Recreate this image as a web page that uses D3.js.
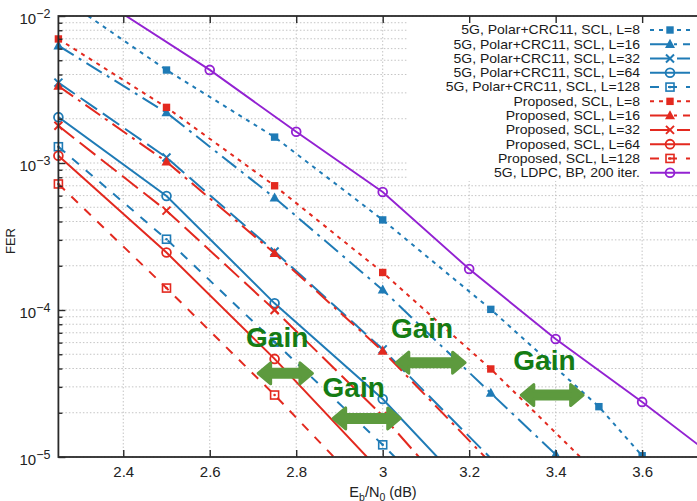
<!DOCTYPE html>
<html><head><meta charset="utf-8">
<script src="https://cdn.jsdelivr.net/npm/d3@7"></script>
<style>
body{margin:0;background:#fff;}
svg{display:block;font-family:"Liberation Sans",Arial,Helvetica,sans-serif;}
</style>
</head><body>
<svg id="chart" width="697" height="501"></svg>
<script>
// ---------------- data ----------------
const xTicks = [2.4, 2.6, 2.8, 3.0, 3.2, 3.4, 3.6];
const yMajorTicks = [1e-2, 1e-3, 1e-4, 1e-5];
const yTickExponents = ["\u22122", "\u22123", "\u22124", "\u22125"];

const seriesLabels = [
  "5G, Polar+CRC11, SCL, L=8",
  "5G, Polar+CRC11, SCL, L=16",
  "5G, Polar+CRC11, SCL, L=32",
  "5G, Polar+CRC11, SCL, L=64",
  "5G, Polar+CRC11, SCL, L=128",
  "Proposed, SCL, L=8",
  "Proposed, SCL, L=16",
  "Proposed, SCL, L=32",
  "Proposed, SCL, L=64",
  "Proposed, SCL, L=128",
  "5G, LDPC, BP, 200 iter."
];

const polarL8X    = [2.25, 2.5, 2.75, 3.0, 3.25, 3.5, 3.6];
const polarL8Fer  = [1.38e-2, 4.29e-3, 1.5e-3, 4.1e-4, 1.01e-4, 2.2e-5, 1.02e-5];
const polarL16X   = [2.25, 2.5, 2.75, 3.0, 3.25, 3.4];
const polarL16Fer = [6.28e-3, 2.2e-3, 5.8e-4, 1.37e-4, 2.72e-5, 1.04e-5];
const polarL32X   = [2.25, 2.5, 2.75, 3.0, 3.25];
const polarL32Fer = [3.52e-3, 1.09e-3, 2.5e-4, 5.4e-5, 9.8e-6];
const polarL64X   = [2.25, 2.5, 2.75, 3.0, 3.25];
const polarL64Fer = [2.05e-3, 5.97e-4, 1.11e-4, 2.48e-5, 4.1e-6];
const polarL128X  = [2.25, 2.5, 2.75, 3.0, 3.25];
const polarL128Fer= [1.29e-3, 3.03e-4, 6.05e-5, 1.21e-5, 2.2e-6];

const propL8X     = [2.25, 2.5, 2.75, 3.0, 3.25, 3.5];
const propL8Fer   = [6.98e-3, 2.39e-3, 7.0e-4, 1.8e-4, 3.97e-5, 7.5e-6];
const propL16X    = [2.25, 2.5, 2.75, 3.0, 3.25];
const propL16Fer  = [3.34e-3, 1.02e-3, 2.43e-4, 5.26e-5, 9.1e-6];
const propL32X    = [2.25, 2.5, 2.75, 3.0, 3.25];
const propL32Fer  = [1.79e-3, 4.74e-4, 1.0e-4, 1.9e-5, 2.8e-6];
const propL64X    = [2.25, 2.5, 2.75, 3.0];
const propL64Fer  = [1.12e-3, 2.46e-4, 4.65e-5, 7.7e-6];
const propL128X   = [2.25, 2.5, 2.75, 3.0];
const propL128Fer = [7.2e-4, 1.41e-4, 2.64e-5, 4.5e-6];

const ldpcX   = [2.4, 2.6, 2.8, 3.0, 3.2, 3.4, 3.6, 3.8];
const ldpcFer = [1.03e-2, 4.3e-3, 1.63e-3, 6.35e-4, 1.9e-4, 6.35e-5, 2.37e-5, 8.4e-6];

const gainArrowX1  = [2.7085, 2.882, 3.028, 3.317];
const gainArrowX2  = [2.841, 3.044, 3.194, 3.467];
const gainArrowFer = [3.71e-5, 1.83e-5, 4.38e-5, 2.64e-5];
const gainTextX    = [2.684, 2.861, 3.019, 3.302];
const gainTextFer  = [5.63e-5, 2.57e-5, 6.46e-5, 3.91e-5];
const gainLabel = "Gain";

// ---------------- styles ----------------
const BLUE = "#1f7bb6", RED = "#e3291f", PURPLE = "#9322d2";
const seriesX   = [polarL8X, polarL16X, polarL32X, polarL64X, polarL128X, propL8X, propL16X, propL32X, propL64X, propL128X, ldpcX];
const seriesFer = [polarL8Fer, polarL16Fer, polarL32Fer, polarL64Fer, polarL128Fer, propL8Fer, propL16Fer, propL32Fer, propL64Fer, propL128Fer, ldpcFer];
const colors  = [BLUE, BLUE, BLUE, BLUE, BLUE, RED, RED, RED, RED, RED, PURPLE];
const dashes  = ["4,5", "18,6,3,6", "20,7", null, "9,9", "4,5", "18,6,3,6", "20,7", null, "9,9", null];
const markers = ["sq", "tri", "x", "circ", "sqdot", "sq", "tri", "x", "circ", "sqdot", "circ"];

// ---------------- layout ----------------
const svg = d3.select("#chart");
const L = 58.4, T = 16, B = 457, R = 707;
const x = d3.scaleLinear().domain([2.25, 3.75]).range([L, R]);
const y = d3.scaleLog().domain([1e-5, 1e-2]).range([B, T]);

const defs = svg.append("defs");
defs.append("clipPath").attr("id", "plotClip").append("rect")
  .attr("x", L).attr("y", T).attr("width", R - L).attr("height", B - T);
defs.append("clipPath").attr("id", "mkClip").append("rect")
  .attr("x", 0).attr("y", 0).attr("width", 697).attr("height", B);

// grid
const yMinor = [];
for (let e = -5; e <= -3; e++) for (let k = 1; k <= 9; k++) yMinor.push(k * Math.pow(10, e));
yMinor.push(1e-2);
const grid = svg.append("g").attr("stroke", "#c4c4c4").attr("stroke-width", 1).attr("stroke-dasharray", "1.5,2");
grid.selectAll("line.h").data(yMinor).join("line").attr("class", "h")
  .attr("x1", L).attr("x2", R).attr("y1", d => y(d)).attr("y2", d => y(d));
grid.selectAll("line.v").data(xTicks).join("line").attr("class", "v")
  .attr("x1", d => x(d)).attr("x2", d => x(d)).attr("y1", T).attr("y2", B);

// legend background
svg.append("rect").attr("x", 408).attr("y", T + 1).attr("width", 300).attr("height", 164).attr("fill", "#fff");

// markers
function drawMarker(g, type, cx, cy, color) {
  if (type === "sq") {
    g.append("rect").attr("x", cx - 3.7).attr("y", cy - 3.7).attr("width", 7.4).attr("height", 7.4).attr("fill", color);
  } else if (type === "tri") {
    g.append("path").attr("d", `M${cx},${cy - 5.4}L${cx + 5},${cy + 3.7}L${cx - 5},${cy + 3.7}Z`).attr("fill", color);
  } else if (type === "x") {
    g.append("path").attr("d", `M${cx - 4},${cy - 4}L${cx + 4},${cy + 4}M${cx - 4},${cy + 4}L${cx + 4},${cy - 4}`)
      .attr("stroke", color).attr("stroke-width", 2).attr("fill", "none");
  } else if (type === "circ") {
    g.append("circle").attr("cx", cx).attr("cy", cy).attr("r", 4.4).attr("fill", "none").attr("stroke", color).attr("stroke-width", 1.8);
  } else if (type === "sqdot") {
    g.append("rect").attr("x", cx - 4).attr("y", cy - 4).attr("width", 8).attr("height", 8)
      .attr("fill", "none").attr("stroke", color).attr("stroke-width", 1.6);
    g.append("circle").attr("cx", cx).attr("cy", cy).attr("r", 1.3).attr("fill", color);
  }
}

// series
const line = d3.line().x(d => x(d[0])).y(d => y(d[1]));
seriesX.forEach((xs, i) => {
  const pts = xs.map((v, j) => [v, seriesFer[i][j]]);
  const g = svg.append("g");
  g.append("path").datum(pts).attr("d", line)
    .attr("fill", "none").attr("stroke", colors[i]).attr("stroke-width", i === 10 ? 1.9 : 2)
    .attr("stroke-dasharray", dashes[i]).attr("clip-path", "url(#plotClip)");
  const mg = g.append("g").attr("clip-path", "url(#mkClip)");
  pts.filter(p => p[1] >= 0.99e-5 && p[1] <= 1.01e-2 && p[0] >= 2.25 && p[0] <= 3.75)
    .forEach(p => drawMarker(mg, markers[i], x(p[0]), y(p[1]), colors[i]));
});

// frame
svg.append("rect").attr("x", L).attr("y", T).attr("width", R - L).attr("height", B - T)
  .attr("fill", "none").attr("stroke", "#2a2a2a").attr("stroke-width", 1.8);

// axes
const fontAxis = 15;
const xAxisB = svg.append("g").attr("transform", `translate(0,${B})`)
  .call(d3.axisBottom(x).tickValues(xTicks).tickSizeInner(-7).tickSizeOuter(0).tickPadding(9).tickFormat(d3.format("~g")));
const xAxisT = svg.append("g").attr("transform", `translate(0,${T})`)
  .call(d3.axisTop(x).tickValues(xTicks).tickSizeInner(-7).tickSizeOuter(0).tickFormat(""));
const yAxisMaj = svg.append("g").attr("transform", `translate(${L},0)`)
  .call(d3.axisLeft(y).tickValues(yMajorTicks).tickSizeInner(-7).tickSizeOuter(0).tickPadding(8).tickFormat(""));
const yAxisMin = svg.append("g").attr("transform", `translate(${L},0)`)
  .call(d3.axisLeft(y).tickValues(yMinor.filter(v => !yMajorTicks.some(m => Math.abs(m - v) / m < 1e-6))).tickSizeInner(-4).tickSizeOuter(0).tickFormat(""));
[xAxisB, xAxisT, yAxisMaj, yAxisMin].forEach(a => {
  a.select(".domain").remove();
  a.selectAll(".tick line").attr("stroke", "#2a2a2a").attr("stroke-width", 1.4);
});
xAxisB.selectAll(".tick text").attr("font-size", fontAxis).attr("fill", "#222").attr("font-family", null);
yAxisMaj.selectAll(".tick text").each(function (d, i) {
  const t = d3.select(this).attr("font-size", fontAxis).attr("fill", "#222").attr("font-family", null)
    .attr("dy", "0.48em").attr("x", -8).attr("text-anchor", "end");
  t.text(null);
  t.append("tspan").text("10");
  t.append("tspan").attr("font-size", 12.5).attr("dy", -6).text(yTickExponents[i]);
});

// axis titles
const xt = svg.append("text").attr("x", 383).attr("y", 497).attr("text-anchor", "middle")
  .attr("font-size", 14.5).attr("fill", "#222");
xt.append("tspan").text("E");
xt.append("tspan").attr("font-size", 10.5).attr("dy", 3.5).text("b");
xt.append("tspan").attr("dy", -3.5).text("/N");
xt.append("tspan").attr("font-size", 10.5).attr("dy", 3.5).text("0");
xt.append("tspan").attr("dy", -3.5).text(" (dB)");

svg.append("text").attr("transform", "translate(15,241) rotate(-90)").attr("text-anchor", "middle")
  .attr("font-size", 13).attr("fill", "#222").text("FER");

// legend (smaller glyph height, stretched to the reference text width so rows do not overlap)
const legX = 640, legSampleX1 = 650, legSampleX2 = 690, legMarkX = 670, legY0 = 30, legDy = 14.27;
seriesLabels.forEach((lab, i) => {
  const cy = legY0 + i * legDy;
  const t = svg.append("text").attr("x", legX).attr("y", cy + 4.4).attr("text-anchor", "end")
    .attr("font-size", 14).attr("fill", "#1a1a1a").text(lab);
  const w = t.node().getComputedTextLength();
  t.attr("font-size", 12.2).attr("textLength", w).attr("lengthAdjust", "spacingAndGlyphs");
  svg.append("line").attr("x1", legSampleX1).attr("x2", legSampleX2).attr("y1", cy).attr("y2", cy)
    .attr("stroke", colors[i]).attr("stroke-width", i === 10 ? 1.9 : 2).attr("stroke-dasharray", dashes[i]);
  drawMarker(svg.append("g"), markers[i], legMarkX, cy, colors[i]);
});

// gain annotations
const GREEN_ARROW = "#5d9a3e", GREEN_TEXT = "#157c14";
gainArrowX1.forEach((v, i) => {
  const x1 = x(v), x2 = x(gainArrowX2[i]), cy = y(gainArrowFer[i]);
  const hl = 14, hh = 10.5, st = 4;
  const d = `M${x1 + 1.5},${cy}L${x1 + hl},${cy - hh}L${x1 + hl},${cy - st}L${x2 - hl},${cy - st}L${x2 - hl},${cy - hh}` +
            `L${x2 - 1.5},${cy}L${x2 - hl},${cy + hh}L${x2 - hl},${cy + st}L${x1 + hl},${cy + st}L${x1 + hl},${cy + hh}Z`;
  svg.append("path").attr("d", d).attr("fill", GREEN_ARROW).attr("stroke", GREEN_ARROW)
    .attr("stroke-width", 3).attr("stroke-linejoin", "round");
});
gainTextX.forEach((v, i) => {
  svg.append("text").attr("x", x(v)).attr("y", y(gainTextFer[i])).attr("font-size", 28)
    .attr("font-weight", "bold").attr("fill", GREEN_TEXT).text(gainLabel);
});
</script>
</body></html>
